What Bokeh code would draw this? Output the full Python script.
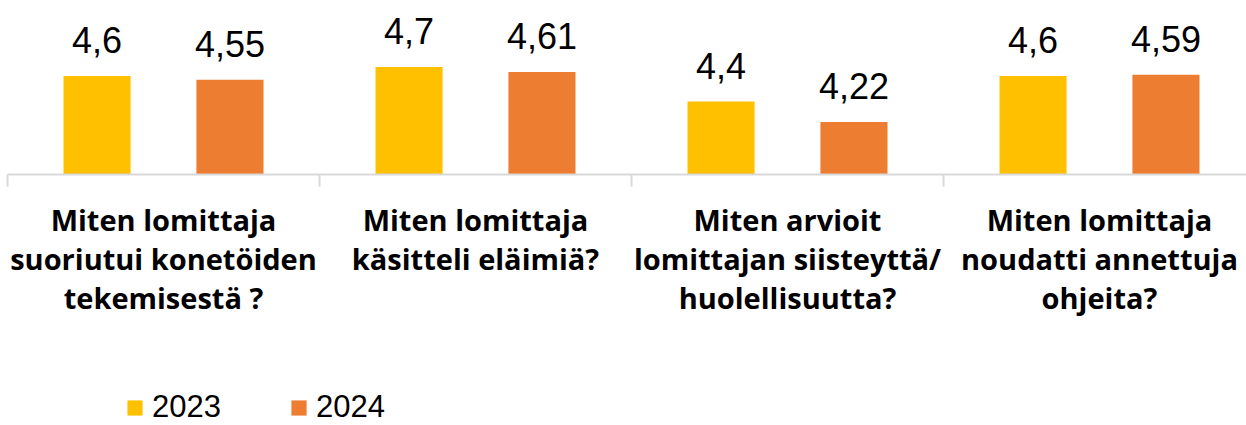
import numpy as np
from bokeh.plotting import figure
from bokeh.models import Range1d, Legend, LegendItem, ColumnDataSource
from bokeh.core.properties import value
from bokeh.embed import file_html
from bokeh.resources import INLINE

categories = [
    "Miten lomittaja\nsuoriutui konetöiden\ntekemisestä ?",
    "Miten lomittaja\nkäsitteli eläimiä?",
    "Miten arvioit\nlomittajan siisteyttä/\nhuolellisuutta?",
    "Miten lomittaja\nnoudatti annettuja\nohjeita?",
]
series_names = ["2023", "2024"]
values_2023 = [4.58, 4.65, 4.38, 4.58]
values_2024 = [4.55, 4.61, 4.22, 4.59]
labels_2023 = ["4,6", "4,7", "4,4", "4,6"]
labels_2024 = ["4,55", "4,61", "4,22", "4,59"]
colors = ["#FFC000", "#ED7D31"]

W, H = 1246, 425
AXIS_Y_PX = 174          # pixel row of the category axis
PX_PER_CAT = 312
X_OFF = 7
Y0 = 3.81                # value at the category axis
PX_PER_UNIT = 128
TICK_PX = 12

idx = np.arange(len(categories))
dodge = 0.213
bar_w = 0.215

p = figure(width=W, height=H, output_backend="svg", toolbar_location=None,
           x_range=Range1d(-X_OFF / PX_PER_CAT, (W - X_OFF) / PX_PER_CAT),
           y_range=Range1d(Y0 - (H - AXIS_Y_PX) / PX_PER_UNIT,
                           Y0 + AXIS_Y_PX / PX_PER_UNIT),
           x_axis_location=None, y_axis_location=None,
           min_border_left=0, min_border_right=0, min_border_top=0,
           min_border_bottom=0)
p.outline_line_color = None
p.xgrid.visible = False
p.ygrid.visible = False
p.background_fill_color = "white"

s1 = ColumnDataSource(dict(x=idx + 0.5 - dodge, top=values_2023, lab=labels_2023))
s2 = ColumnDataSource(dict(x=idx + 0.5 + dodge, top=values_2024, lab=labels_2024))

r1 = p.vbar(x="x", top="top", bottom=Y0, width=bar_w, source=s1,
            fill_color=colors[0], line_color=None)
r2 = p.vbar(x="x", top="top", bottom=Y0, width=bar_w, source=s2,
            fill_color=colors[1], line_color=None)

for s in (s1, s2):
    p.text(x="x", y="top", text="lab", source=s, text_align="center",
           text_baseline="alphabetic", y_offset=-36,
           text_font=value("Liberation Sans"), text_font_size="36px",
           text_color="#000000")

# category axis line and boundary ticks
bounds = list(range(len(categories) + 1))
p.segment(x0=[bounds[0]], x1=[bounds[-1] + 0.2], y0=[Y0], y1=[Y0],
          line_color="#D9D9D9", line_width=2)
p.segment(x0=bounds, x1=bounds, y0=[Y0] * len(bounds),
          y1=[Y0 - TICK_PX / PX_PER_UNIT] * len(bounds),
          line_color="#D9D9D9", line_width=2)

# category labels
p.text(x=list(idx + 0.5), y=[Y0] * len(categories), text=categories,
       text_align="center", text_baseline="top", y_offset=25,
       text_font=value("Open Sans"), text_font_style="bold",
       text_font_size="29px", text_line_height=1.01, text_color="#000000")

legend = Legend(items=[LegendItem(label=series_names[0], renderers=[r1]),
                       LegendItem(label=series_names[1], renderers=[r2])],
                orientation="horizontal", location=(125, 0))
legend.glyph_width = 19
legend.glyph_height = 19
legend.label_standoff = 8
legend.spacing = 68
legend.padding = 0
legend.margin = 0
legend.border_line_color = None
legend.background_fill_alpha = 0
legend.label_text_font = "Liberation Sans"
legend.label_text_font_size = "31px"
legend.label_text_color = "#000000"
p.add_layout(legend, "center")

open("out.html", "w").write(file_html(p, INLINE))
